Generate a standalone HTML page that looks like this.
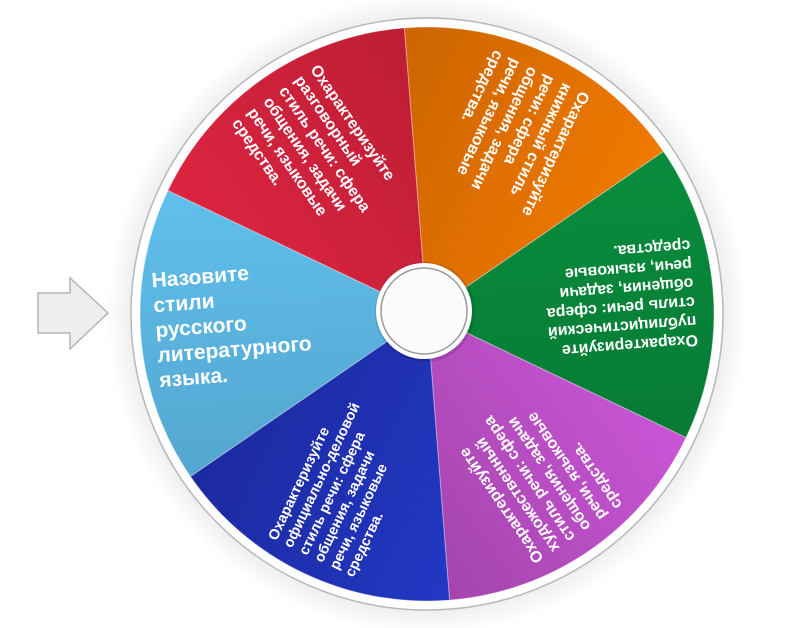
<!DOCTYPE html>
<html><head><meta charset="utf-8"><style>
html,body{margin:0;padding:0;background:#fff;}
svg{display:block;}
text{font-family:"Liberation Sans","DejaVu Sans",sans-serif;font-weight:bold;fill:#fff;}
</style></head><body>
<svg width="800" height="628" viewBox="0 0 800 628" xmlns="http://www.w3.org/2000/svg">
<defs>
<radialGradient id="sh" cx="427" cy="314" r="320" gradientUnits="userSpaceOnUse">
<stop offset="0.88" stop-color="#d8d8d8"/><stop offset="0.93" stop-color="#f0f0f0"/><stop offset="1" stop-color="#fff"/>
</radialGradient>
<linearGradient id="gb" x1="0" y1="0" x2="0" y2="1"><stop offset="0" stop-color="#60c0ec"/><stop offset="1" stop-color="#54a6cf"/></linearGradient>
<linearGradient id="gr" x1="0" y1="0" x2="0" y2="1"><stop offset="0" stop-color="#bd1d34"/><stop offset="1" stop-color="#dc2540"/></linearGradient>
<linearGradient id="go" x1="0" y1="0" x2="0" y2="1"><stop offset="0" stop-color="#f07a00"/><stop offset="1" stop-color="#cc6400"/></linearGradient>
<linearGradient id="gg" x1="0" y1="0" x2="0" y2="1"><stop offset="0" stop-color="#077a36"/><stop offset="1" stop-color="#088d3c"/></linearGradient>
<linearGradient id="gp" x1="0" y1="0" x2="0" y2="1"><stop offset="0" stop-color="#a445ac"/><stop offset="1" stop-color="#c955d6"/></linearGradient>
<linearGradient id="gd" x1="0" y1="0" x2="0" y2="1"><stop offset="0" stop-color="#1c2aa0"/><stop offset="1" stop-color="#2238c4"/></linearGradient>
</defs>
<circle cx="427" cy="314" r="320" fill="url(#sh)"/>
<circle cx="427" cy="314" r="296" fill="#fff" stroke="#b8b8b8" stroke-width="1.5"/>
<g transform="translate(427,314)" stroke="#ffffff" stroke-opacity="0.35" stroke-width="1">
<g transform="rotate(-4.5)"><path d="M0,0 L-248.55,-143.5 A287,287 0 0,0 -248.55,143.5 Z" fill="url(#gb)"/></g>
<g transform="rotate(55.5)"><path d="M0,0 L-248.55,-143.5 A287,287 0 0,0 -248.55,143.5 Z" fill="url(#gr)"/></g>
<g transform="rotate(115.5)"><path d="M0,0 L-248.55,-143.5 A287,287 0 0,0 -248.55,143.5 Z" fill="url(#go)"/></g>
<g transform="rotate(175.5)"><path d="M0,0 L-248.55,-143.5 A287,287 0 0,0 -248.55,143.5 Z" fill="url(#gg)"/></g>
<g transform="rotate(235.5)"><path d="M0,0 L-248.55,-143.5 A287,287 0 0,0 -248.55,143.5 Z" fill="url(#gp)"/></g>
<g transform="rotate(295.5)"><path d="M0,0 L-248.55,-143.5 A287,287 0 0,0 -248.55,143.5 Z" fill="url(#gd)"/></g>
</g>
<g transform="translate(427,314)">
<g transform="rotate(-4.5)" font-size="21">
<text x="-272" y="-48">Назовите</text>
<text x="-272" y="-23">стили</text>
<text x="-272" y="2">русского</text>
<text x="-272" y="27">литературного</text>
<text x="-272" y="52">языка.</text>
</g>
<g transform="rotate(55.5)" font-size="16">
<text x="-268" y="-42">Охарактеризуйте</text>
<text x="-268" y="-23">разговорный</text>
<text x="-268" y="-4">стиль речи: сфера</text>
<text x="-268" y="15">общения, задачи</text>
<text x="-268" y="34">речи, языковые</text>
<text x="-268" y="53">средства.</text>
</g>
<g transform="rotate(115.5)" font-size="16">
<text x="-268" y="-42">Охарактеризуйте</text>
<text x="-268" y="-23">книжный стиль</text>
<text x="-268" y="-4">речи: сфера</text>
<text x="-268" y="15">общения, задачи</text>
<text x="-268" y="34">речи, языковые</text>
<text x="-268" y="53">средства.</text>
</g>
<g transform="rotate(175.5)" font-size="16">
<text x="-268" y="-42">Охарактеризуйте</text>
<text x="-268" y="-23">публицистический</text>
<text x="-268" y="-4">стиль речи: сфера</text>
<text x="-268" y="15">общения, задачи</text>
<text x="-268" y="34">речи, языковые</text>
<text x="-268" y="53">средства.</text>
</g>
<g transform="rotate(235.5)" font-size="16">
<text x="-268" y="-42">Охарактеризуйте</text>
<text x="-268" y="-23">художественный</text>
<text x="-268" y="-4">стиль речи: сфера</text>
<text x="-268" y="15">общения, задачи</text>
<text x="-268" y="34">речи, языковые</text>
<text x="-268" y="53">средства.</text>
</g>
<g transform="rotate(295.5)" font-size="14.5">
<text x="-270" y="-38">Охарактеризуйте</text>
<text x="-270" y="-21">официально-деловой</text>
<text x="-270" y="-4">стиль речи: сфера</text>
<text x="-270" y="13">общения, задачи</text>
<text x="-270" y="30">речи, языковые</text>
<text x="-270" y="47">средства.</text>
</g>
</g>
<circle cx="425" cy="312" r="50" fill="#000" opacity="0.12"/>
<circle cx="424" cy="311" r="48" fill="#fff"/>
<circle cx="424" cy="311" r="43" fill="#fbfbfb" stroke="#9a9a9a" stroke-width="1.5"/>
<path d="M38,293 L70,293 L70,278 L108,313 L70,349 L70,333 L38,333 Z" fill="#eeeeee" stroke="#b5b5b5" stroke-width="1.5"/>
</svg>
</body></html>
